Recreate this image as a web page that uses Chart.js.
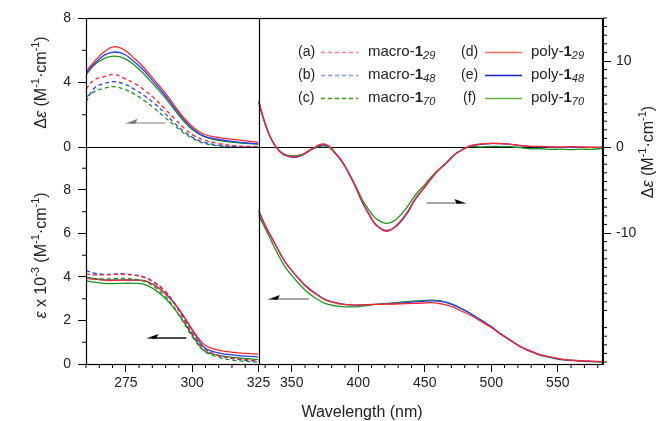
<!DOCTYPE html>
<html>
<head>
<meta charset="utf-8">
<script src="https://cdn.jsdelivr.net/npm/chart.js@4"></script>
<style>
  body { margin: 0; background: #fff; }
  canvas { display: block; }
</style>
</head>
<body>
<canvas id="chartCD" width="656" height="421"></canvas>
<script>
// left panel (260-325 nm)
const leftNm = [260, 263.1, 266.9, 270.7, 274.4, 278.2, 282, 285.7, 289.5, 293.2, 297, 300.8, 304.5, 309.5, 315.8, 325];

// CD, delta-epsilon (M-1 cm-1)
const cdMacro29 = [3.58, 4.16, 4.36, 4.5, 4.26, 3.95, 3.53, 3.02, 2.4, 1.78, 1.16, 0.7, 0.43, 0.23, 0.08, 0.02];
const cdMacro48 = [2.81, 3.64, 3.95, 4.05, 3.91, 3.58, 3.18, 2.71, 2.13, 1.51, 0.95, 0.54, 0.29, 0.12, 0.04, 0.0];
const cdMacro70 = [3.1, 3.43, 3.65, 3.74, 3.58, 3.29, 2.87, 2.4, 1.88, 1.36, 0.85, 0.48, 0.23, 0.08, 0.0, 0.0];
const cdPoly29 = [4.67, 5.29, 5.91, 6.22, 6.02, 5.5, 4.88, 4.16, 3.43, 2.6, 1.78, 1.16, 0.79, 0.6, 0.47, 0.29];
const cdPoly48 = [4.57, 5.15, 5.7, 5.89, 5.75, 5.29, 4.71, 4.01, 3.27, 2.46, 1.67, 1.05, 0.68, 0.48, 0.33, 0.19];
const cdPoly70 = [4.47, 5.09, 5.5, 5.64, 5.5, 5.09, 4.5, 3.84, 3.12, 2.34, 1.57, 0.99, 0.64, 0.43, 0.29, 0.17];

// UV, epsilon x 10^-3
const uvMacro29 = [4.14, 4.1, 4.1, 4.12, 4.12, 4.08, 3.98, 3.74, 3.37, 2.79, 2.02, 1.26, 0.72, 0.41, 0.26, 0.15];
const uvMacro48 = [4.29, 4.18, 4.12, 4.13, 4.14, 4.1, 4.0, 3.76, 3.39, 2.82, 2.05, 1.28, 0.72, 0.4, 0.24, 0.12];
const uvMacro70 = [3.99, 3.93, 3.91, 3.92, 3.93, 3.9, 3.8, 3.55, 3.16, 2.6, 1.85, 1.12, 0.6, 0.32, 0.17, 0.08];
const uvPoly29 = [3.95, 3.9, 3.86, 3.85, 3.86, 3.86, 3.83, 3.63, 3.29, 2.82, 2.17, 1.45, 0.9, 0.65, 0.53, 0.45];
const uvPoly48 = [3.99, 3.92, 3.87, 3.86, 3.86, 3.86, 3.83, 3.63, 3.29, 2.8, 2.15, 1.41, 0.77, 0.52, 0.41, 0.32];
const uvPoly70 = [3.83, 3.76, 3.71, 3.7, 3.71, 3.71, 3.66, 3.43, 3.07, 2.56, 1.9, 1.18, 0.61, 0.41, 0.3, 0.2];

// right panel CD (right axis)
const rightCdNm = [325, 330, 335, 340, 345, 352, 358, 365, 373, 378, 383, 388, 393, 398, 403, 408, 413, 421, 428, 436,
  443, 451, 458, 466, 473, 477, 484, 492, 500, 507, 515, 522, 530, 537, 545, 552, 560, 567, 575, 584];
const cdRight29 = [5.4, 2.75, 0.81, -0.35, -0.93, -1.13, -0.9, -0.22, 0.35, 0.1, -0.74, -1.7, -3.06, -4.61, -6.36, -7.75, -8.95, -9.8, -9.2, -7.75,
  -5.97, -4.42, -3.06, -1.9, -0.81, -0.43, 0.12, 0.35, 0.43, 0.39, 0.31, 0.19, 0.08, 0.08, 0.0, 0.0, 0.05, 0.0, -0.03, -0.05];
const cdRight48 = [5.3, 2.7, 0.78, -0.38, -0.98, -1.2, -0.95, -0.28, 0.25, 0.05, -0.78, -1.75, -3.1, -4.68, -6.45, -7.85, -9.05, -9.7, -9.3, -7.9,
  -6.1, -4.5, -3.1, -1.9, -0.81, -0.43, 0.12, 0.3, 0.41, 0.39, 0.31, 0.12, 0.05, 0.02, 0.0, -0.03, -0.03, -0.03, -0.05, -0.03];
const cdRight70 = [5.2, 2.65, 0.8, -0.3, -0.88, -1.02, -0.85, -0.25, 0.12, -0.05, -0.8, -1.75, -3.05, -4.5, -6.1, -7.33, -8.29, -8.88, -8.49, -7.13,
  -5.58, -4.2, -2.95, -1.85, -0.81, -0.43, 0.05, 0.0, 0.08, 0.05, 0.04, -0.08, -0.2, -0.2, -0.27, -0.25, -0.31, -0.25, -0.27, -0.15];

// right panel UV (left scale)
const rightUvNm = [325, 330, 338, 345, 353, 360, 368, 375, 383, 390, 398, 413, 428, 443, 455, 462, 470, 477, 485, 492,
  500, 507, 515, 522, 530, 537, 545, 552, 560, 567, 575, 584];
const uvRight29 = [7.0, 6.35, 5.45, 4.68, 4.07, 3.6, 3.22, 2.95, 2.8, 2.73, 2.71, 2.74, 2.76, 2.79, 2.82, 2.77, 2.65, 2.45, 2.22, 1.97,
  1.68, 1.37, 1.06, 0.8, 0.59, 0.43, 0.32, 0.23, 0.18, 0.15, 0.13, 0.11];
const uvRight48 = [7.08, 6.39, 5.47, 4.7, 4.09, 3.63, 3.25, 2.97, 2.82, 2.74, 2.71, 2.74, 2.78, 2.86, 2.9, 2.88, 2.75, 2.56, 2.3, 2.03,
  1.72, 1.4, 1.08, 0.8, 0.58, 0.41, 0.3, 0.21, 0.17, 0.14, 0.12, 0.1];
const uvRight70 = [6.85, 6.24, 5.24, 4.47, 3.86, 3.4, 3.02, 2.79, 2.67, 2.63, 2.63, 2.74, 2.82, 2.9, 2.94, 2.9, 2.76, 2.56, 2.3, 2.02,
  1.7, 1.38, 1.06, 0.78, 0.56, 0.4, 0.29, 0.2, 0.16, 0.13, 0.11, 0.09];

// ticks
const leftNmTicks = [275, 300, 325];
const leftNmMinor = [260, 265, 270, 280, 285, 290, 295, 305, 310, 315, 320];
const rightNmTicks = [350, 400, 450, 500, 550];
const rightNmMinor = [330, 340, 360, 370, 380, 390, 410, 420, 430, 440, 460, 470, 480, 490, 510, 520, 530, 540, 560, 570, 580];
const cdTicks = [0, 4, 8];
const cdMinor = [2, 6];
const uvTicks = [0, 2, 4, 6, 8];
const uvMinor = [1, 3, 5, 7, 9];
const rightTicks = [-10, 0, 10];

const RED = '#ff2626', BLUE = '#2a3cff', GREEN = '#16961c';
const FONT = "'Liberation Sans', Arial, sans-serif";
const tickFont = { family: FONT, size: 14 };

function pts(xs, ys) {
  return xs.map((x, i) => ({ x: x, y: ys[i] }));
}

function series(label, xs, ys, color, xId, yId, dashed) {
  return {
    label: label,
    data: pts(xs, ys),
    xAxisID: xId,
    yAxisID: yId,
    borderColor: color,
    borderWidth: 1.3,
    borderDash: dashed ? [4, 3] : [],
    pointRadius: 0,
    tension: 0.4,
    fill: false
  };
}

function fixTicks(list) {
  return (scale) => { scale.ticks = list.map((v) => ({ value: v })); };
}

function axisBase(extra) {
  return Object.assign({
    type: 'linear',
    grid: { drawOnChartArea: false, tickLength: 8, tickColor: '#000', lineWidth: 1 },
    border: { color: '#000', width: 1 },
    ticks: { font: tickFont, color: '#222', autoSkip: false, maxRotation: 0 }
  }, extra);
}

// draw mixed-font text; parts = [text, size, style, dy]
function rich(ctx, parts, x, y, align) {
  let w = 0;
  parts.forEach((p) => {
    ctx.font = (p[2] || '') + ' ' + p[1] + 'px ' + FONT;
    w += ctx.measureText(p[0]).width;
  });
  let cx = align === 'center' ? x - w / 2 : x;
  parts.forEach((p) => {
    ctx.font = (p[2] || '') + ' ' + p[1] + 'px ' + FONT;
    ctx.fillText(p[0], cx, y + (p[3] || 0));
    cx += ctx.measureText(p[0]).width;
  });
}

function line(ctx, x1, y1, x2, y2) {
  ctx.beginPath();
  ctx.moveTo(x1, y1);
  ctx.lineTo(x2, y2);
  ctx.stroke();
}

function arrow(ctx, x1, x2, y, lineColor, headColor) {
  const dir = x2 > x1 ? -1 : 1;
  ctx.strokeStyle = lineColor;
  ctx.lineWidth = 1.5;
  line(ctx, x1, y, x2 + dir * 6, y);
  ctx.fillStyle = headColor;
  ctx.beginPath();
  ctx.moveTo(x2, y + 0.5);
  ctx.lineTo(x2 + dir * 12, y - 4);
  ctx.lineTo(x2 + dir * 10, y + 0.8);
  ctx.closePath();
  ctx.fill();
}

const units = [[' (M', 16], ['-1', 11, '', -6], ['\u00b7cm', 16], ['-1', 11, '', -6], [')', 16]];

const decor = {
  id: 'decor',
  beforeDatasetsDraw(chart) {
    const { ctx, chartArea: a, scales: s } = chart;
    ctx.save();
    ctx.strokeStyle = '#000';
    ctx.lineWidth = 1.2;
    const y0 = Math.round(s.yR.getPixelForValue(0)) + 0.5;
    line(ctx, a.left, y0, a.right, y0);
    ctx.restore();
  },
  afterDraw(chart) {
    const { ctx, chartArea: a, scales: s } = chart;
    ctx.save();
    ctx.strokeStyle = '#000';
    ctx.lineWidth = 1.2;
    // frame and panel divider
    ctx.strokeRect(a.left + 0.5, a.top + 0.5, a.right - a.left - 1, a.bottom - a.top);
    const xd = Math.round(s.xL.getPixelForValue(325)) + 0.5;
    line(ctx, xd, a.top, xd, a.bottom);

    // minor ticks
    ctx.lineWidth = 1;
    leftNmMinor.forEach((v) => { const p = s.xL.getPixelForValue(v); line(ctx, p, a.bottom, p, a.bottom + 4); });
    rightNmMinor.forEach((v) => { const p = s.xR.getPixelForValue(v); line(ctx, p, a.bottom, p, a.bottom + 4); });
    cdMinor.forEach((v) => { const p = s.yCD.getPixelForValue(v); line(ctx, a.left - 4, p, a.left, p); });
    uvMinor.forEach((v) => { const p = s.yUV.getPixelForValue(v); line(ctx, a.left - 4, p, a.left, p); });
    for (let v = -25; v <= 15; v++) {
      if (v % 10 === 0) continue;
      const p = s.yR.getPixelForValue(v);
      line(ctx, a.right, p, a.right + 4, p);
    }

    // axis titles
    ctx.fillStyle = '#222';
    ctx.textBaseline = 'middle';
    rich(ctx, [['Wavelength (nm)', 16]], 362, 413, 'center');

    const vtitle = (parts, x, y) => {
      ctx.save();
      ctx.translate(x, y);
      ctx.rotate(-Math.PI / 2);
      rich(ctx, parts, 0, 0, 'center');
      ctx.restore();
    };
    const cdTitle = [['\u0394', 16], ['\u03b5', 16, 'italic']].concat(units);
    vtitle(cdTitle, 42, (s.yCD.top + s.yCD.bottom) / 2);
    vtitle([['\u03b5', 16, 'italic'], [' x 10', 16], ['-3', 11, '', -6]].concat(units), 42, (s.yUV.top + s.yUV.bottom) / 2);
    vtitle(cdTitle, 649, 152);

    // legend
    const rows = [52, 75, 98];
    const leg = [
      ['(a)', 'macro-', '29', '#ff7f7f', true, 298, 321, 368],
      ['(b)', 'macro-', '48', '#7f95ff', true, 298, 321, 368],
      ['(c)', 'macro-', '70', '#3f9a10', true, 298, 321, 368],
      ['(d)', 'poly-', '29', '#f2705e', false, 461, 485, 531],
      ['(e)', 'poly-', '48', '#1020d8', false, 461, 485, 531],
      ['(f)', 'poly-', '70', '#6aad45', false, 463, 485, 531]
    ];
    leg.forEach((L, i) => {
      const y = rows[i % 3];
      ctx.fillStyle = '#222';
      rich(ctx, [[L[0], 14]], L[5], y, 'left');
      rich(ctx, [[L[1], 15], ['1', 15, 'bold'], [L[2], 11, 'italic', 4]], L[7], y, 'left');
      ctx.strokeStyle = L[3];
      ctx.lineWidth = 1.3;
      ctx.setLineDash(L[4] ? [4, 3] : []);
      line(ctx, L[6], y + 0.5, L[6] + 37, y + 0.5);
      ctx.setLineDash([]);
    });

    // arrows
    arrow(ctx, s.xL.getPixelForValue(290), s.xL.getPixelForValue(274.8), s.yCD.getPixelForValue(1.49), '#aaa', '#777');
    arrow(ctx, s.xL.getPixelForValue(297.8), s.xL.getPixelForValue(282.7), s.yUV.getPixelForValue(1.2), '#111', '#000');
    arrow(ctx, s.xR.getPixelForValue(451.4), s.xR.getPixelForValue(481.4), s.yR.getPixelForValue(-6.5), '#888', '#000');
    arrow(ctx, s.xR.getPixelForValue(362.8), s.xR.getPixelForValue(332), s.yUV2.getPixelForValue(2.99), '#888', '#000');
    ctx.restore();
  }
};

const datasets = [
  series('macro-1 29 CD', leftNm, cdMacro29, RED, 'xL', 'yCD', true),
  series('macro-1 48 CD', leftNm, cdMacro48, BLUE, 'xL', 'yCD', true),
  series('macro-1 70 CD', leftNm, cdMacro70, GREEN, 'xL', 'yCD', true),
  series('poly-1 29 CD', leftNm, cdPoly29, RED, 'xL', 'yCD', false),
  series('poly-1 48 CD', leftNm, cdPoly48, BLUE, 'xL', 'yCD', false),
  series('poly-1 70 CD', leftNm, cdPoly70, GREEN, 'xL', 'yCD', false),
  series('macro-1 29 UV', leftNm, uvMacro29, RED, 'xL', 'yUV', true),
  series('macro-1 48 UV', leftNm, uvMacro48, BLUE, 'xL', 'yUV', true),
  series('macro-1 70 UV', leftNm, uvMacro70, GREEN, 'xL', 'yUV', true),
  series('poly-1 29 UV', leftNm, uvPoly29, RED, 'xL', 'yUV', false),
  series('poly-1 48 UV', leftNm, uvPoly48, BLUE, 'xL', 'yUV', false),
  series('poly-1 70 UV', leftNm, uvPoly70, GREEN, 'xL', 'yUV', false),
  series('poly-1 29 CD', rightCdNm, cdRight29, RED, 'xR', 'yR', false),
  series('poly-1 48 CD', rightCdNm, cdRight48, BLUE, 'xR', 'yR', false),
  series('poly-1 70 CD', rightCdNm, cdRight70, GREEN, 'xR', 'yR', false),
  series('poly-1 29 UV', rightUvNm, uvRight29, RED, 'xR', 'yUV2', false),
  series('poly-1 48 UV', rightUvNm, uvRight48, BLUE, 'xR', 'yUV2', false),
  series('poly-1 70 UV', rightUvNm, uvRight70, GREEN, 'xR', 'yUV2', false)
];

const config = {
  type: 'line',
  data: { datasets: datasets },
  options: {
    responsive: false,
    animation: false,
    devicePixelRatio: 1,
    layout: { padding: { top: 18, left: 0, right: 0, bottom: 0 } },
    plugins: { legend: { display: false }, tooltip: { enabled: false } },
    scales: {
      xL: axisBase({
        position: 'bottom', stack: 'wl', stackWeight: 172.5, weight: 0, min: 260, max: 325,
        afterBuildTicks: fixTicks(leftNmTicks),
        afterFit: (s) => { s.height = 57; }
      }),
      xR: axisBase({
        position: 'bottom', stack: 'wl', stackWeight: 344.5, weight: 1, min: 325, max: 584,
        afterBuildTicks: fixTicks(rightNmTicks),
        afterFit: (s) => { s.height = 57; }
      }),
      yUV2: { type: 'linear', position: 'left', display: false, weight: 0, min: 0, max: 15.91 },
      yUV: axisBase({
        position: 'left', stack: 'lhs', stackWeight: 217, weight: 1, min: 0, max: 9.977,
        afterBuildTicks: fixTicks(uvTicks),
        afterFit: (s) => { s.width = 86; }
      }),
      yCD: axisBase({
        position: 'left', stack: 'lhs', stackWeight: 129, weight: 2, min: 0, max: 8,
        afterBuildTicks: fixTicks(cdTicks),
        afterFit: (s) => { s.width = 86; }
      }),
      yR: axisBase({
        position: 'right', min: -25.23, max: 15,
        afterBuildTicks: fixTicks(rightTicks),
        afterFit: (s) => { s.width = 53; }
      })
    }
  },
  plugins: [decor]
};

// tick label spacing
config.options.scales.xL.ticks.padding = 3;
config.options.scales.xR.ticks.padding = 3;
config.options.scales.yUV.ticks.padding = 7;
config.options.scales.yCD.ticks.padding = 7;
config.options.scales.yR.ticks.padding = 5;

const chartCD = new Chart(document.getElementById('chartCD'), config);
</script>
</body>
</html>
